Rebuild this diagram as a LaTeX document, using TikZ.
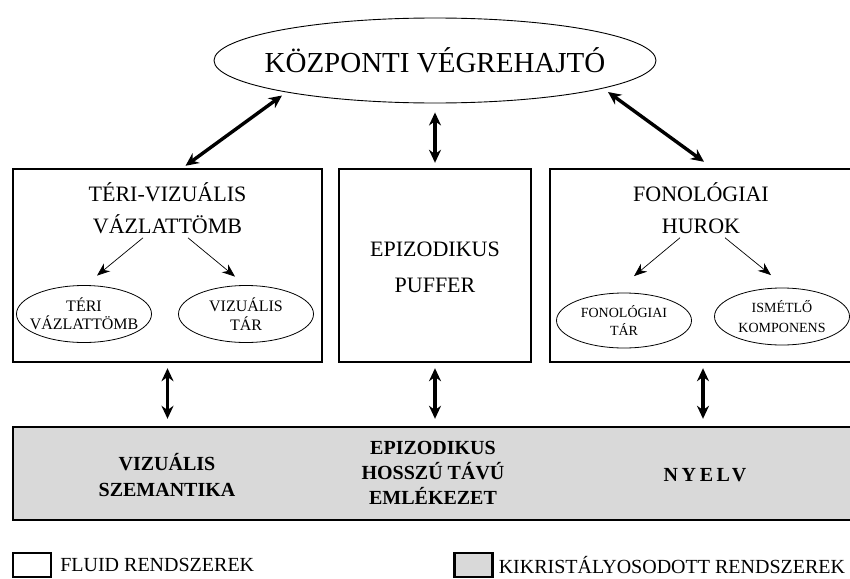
\documentclass[tikz,border=0pt]{standalone}
\usepackage{fontspec}
\setmainfont{Liberation Serif}
\usepackage{tikz}
\usetikzlibrary{positioning, arrows.meta, calc, shapes.geometric}
\usepackage{xcolor}
\definecolor{crystal-grey}{gray}{0.85}

\tikzset{
  sysbox/.style={draw, line width=2.4pt, minimum height=193pt, inner sep=0pt},
  boxtitle/.style={align=center, inner sep=0pt, font=\fontsize{22}{32}\selectfont},
  subpart/.style={ellipse, draw, line width=0.8pt, align=center, inner xsep=-16pt, inner ysep=-7pt, minimum width=135pt, minimum height=57pt},
  crysttext/.style={align=center, inner sep=0pt, font=\bfseries\fontsize{20}{26}\selectfont},
  legendbox/.style={draw, line width=2.2pt, minimum width=38pt, minimum height=24pt, inner sep=0pt},
  legendtext/.style={inner sep=0pt, font=\fontsize{20}{24}\selectfont},
  bigarrow/.style={{Stealth[length=13pt,width=12pt]}-{Stealth[length=13pt,width=12pt]}, line width=3.4pt},
  thinarrow/.style={-{Stealth[length=13pt,width=10pt]}, line width=0.7pt}
}

\begin{document}
\begin{tikzpicture}[x=1pt, y=-1pt, node distance=8pt]
\useasboundingbox (0,0) rectangle (850,578);

% central executive
\node[ellipse, draw, line width=0.9pt, minimum width=442pt, minimum height=85pt, inner xsep=-30pt, font=\fontsize{29}{32}\selectfont] (ce) at (435,60.5) {KÖZPONTI VÉGREHAJTÓ};

% fluid systems
\node[sysbox, minimum width=309pt] (vsk) at (167.5,265.5) {};
\node[sysbox, minimum width=192pt] (pb) at (435,265.5) {};
\node[sysbox, minimum width=302pt] (fh) at (701,265.5) {};

\node[boxtitle] (vsktitle) at (167.5,208) {TÉRI-VIZUÁLIS\\VÁZLATTÖMB};
\node[boxtitle, font=\fontsize{22}{36}\selectfont] (pbtitle) at (435,267) {EPIZODIKUS\\PUFFER};
\node[boxtitle] (fhtitle) at (701,208) {FONOLÓGIAI\\HUROK};

\node[subpart, font=\fontsize{16}{18}\selectfont] (tv) at (84,314) {TÉRI\\VÁZLATTÖMB};
\node[subpart, font=\fontsize{16}{19}\selectfont] (vt) at (246,314) {VIZUÁLIS\\TÁR};
\node[subpart, minimum height=55pt, font=\fontsize{14}{18}\selectfont] (ft) at (624,320.5) {FONOLÓGIAI\\TÁR};
\node[subpart, font=\fontsize{14}{20}\selectfont] (ik) at (782,316.5) {ISMÉTLŐ\\KOMPONENS};

% crystallized systems
\node[draw, line width=2.4pt, fill=crystal-grey, minimum width=839pt, minimum height=93pt, inner sep=0pt] (ltm) at (432.5,473.5) {};
\node[crysttext] (vsz) at (167,475) {VIZUÁLIS\\SZEMANTIKA};
\node[crysttext, font=\bfseries\fontsize{20}{25}\selectfont] (ehte) at (433,473) {EPIZODIKUS\\HOSSZÚ TÁVÚ\\EMLÉKEZET};
\node[crysttext, font=\bfseries\fontsize{20}{25}\selectfont\addfontfeatures{LetterSpace=18}] (nyelv) at (705,475) {NYELV};

% legend
\node[legendbox] (fluidkey) at (32,565) {};
\node[legendtext, right=8pt of fluidkey] (fluidtext) {FLUID RENDSZEREK};
\node[legendbox, fill=crystal-grey] (crystkey) at (473.5,565) {};
\node[legendtext, right=5pt of crystkey] (crysttext) {KIKRISTÁLYOSODOTT RENDSZEREK};

\draw
($(vsk.north)+(18,-2)$) edge[bigarrow] ($(ce.center)+(-153,35)$)
(ce.south) edge[bigarrow, shorten <=9pt, shorten >=5pt] (pb.north)
($(ce.center)+(173,31.5)$) edge[bigarrow] ($(fh.north)+(3,-6)$)
(vsk.south) edge[bigarrow, shorten <=5pt, shorten >=7pt] (vsk.south |- ltm.north)
(pb.south) edge[bigarrow, shorten <=5pt, shorten >=7pt] (pb.south |- ltm.north)
($(fh.south)+(2,0)$) edge[bigarrow, shorten <=5pt, shorten >=7pt] ($(fh.south |- ltm.north)+(2,0)$);

\draw
($(vsktitle.south)+(-24.5,4)$) edge[thinarrow] ($(tv.north)+(13,-9.5)$)
($(vsktitle.south)+(20.5,4)$) edge[thinarrow] ($(vt.north)+(-11,-8.5)$)
($(fhtitle.south)+(-21,4)$) edge[thinarrow] ($(ft.north)+(10,-16.5)$)
($(fhtitle.south)+(24,4)$) edge[thinarrow] ($(ik.north)+(-11,-12.5)$);
\end{tikzpicture}
\end{document}
